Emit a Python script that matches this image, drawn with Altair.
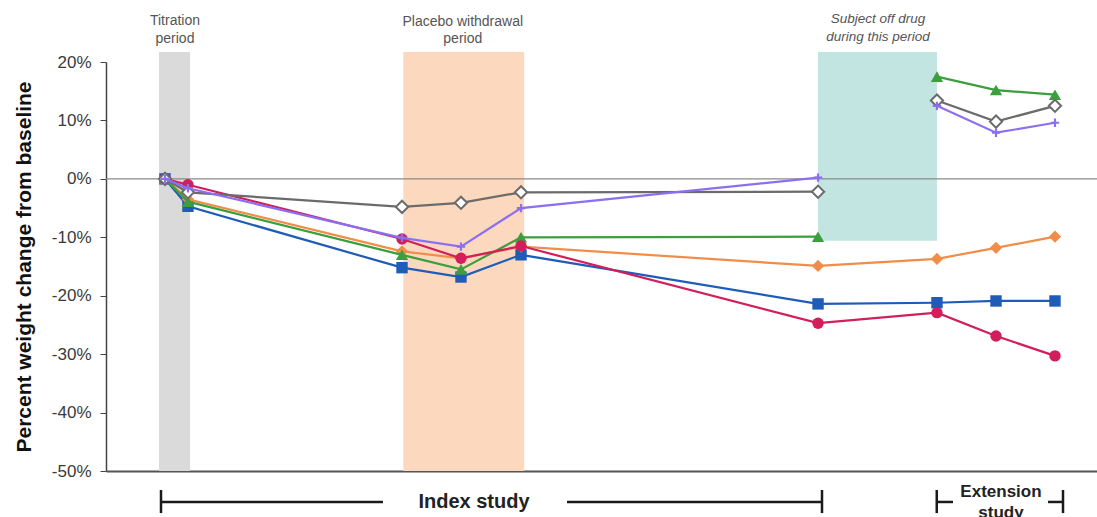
import altair as alt
import pandas as pd

# Visit positions (arbitrary time units along the study)
x_pos = [5.95, 8.27, 29.87, 35.82, 41.88, 71.85, 83.85, 89.81, 95.76]

# Percent weight change from baseline for each subject
blue = [0, -4.7, -15.2, -16.8, -13.0, -21.4, -21.2, -20.9, -20.9]
orange = [0, -3.5, -12.4, -13.6, -11.6, -14.9, -13.7, -11.8, -9.9]
green = [0, -3.9, -13.0, -15.5, -10.0, -9.9, 17.5, 15.2, 14.4]
red = [0, -1.0, -10.3, -13.6, -11.5, -24.7, -22.9, -26.9, -30.3]
gray = [0, -2.3, -4.8, -4.1, -2.3, -2.2, 13.4, 9.8, 12.5]
purple = [0, -1.6, -10.1, -11.6, -5.0, 0.2, 12.5, 7.9, 9.6]

series = [
    # name, values, color, shape, fill, broken across off-drug period
    ("Subject A", blue, "#1f5cb8", "square", "#1f5cb8", False),
    ("Subject B", orange, "#f08d49", "diamond", "#f08d49", False),
    ("Subject C", green, "#3c9e3c", "triangle-up", "#3c9e3c", True),
    ("Subject D", red, "#d21f5c", "circle", "#d21f5c", False),
    ("Subject E", gray, "#6b6b6b", "diamond", "#ffffff", True),
    ("Subject F", purple, "#8c6ff0", "M-1,0L1,0M0,-1L0,1", None, True),
]

# Shaded periods
period_names = ["Titration period", "Placebo withdrawal period", "Subject off drug"]
period_x0 = [5.35, 30.0, 71.85]
period_x1 = [8.48, 42.2, 83.85]
period_top = [21.7, 21.7, 21.7]
period_bottom = [-50, -50, -10.6]
period_colors = ["#dadada", "#fcd8bf", "#c2e5e1"]

# Annotation texts above the plot (y = first line)
note_text = ["Titration\nperiod", "Placebo withdrawal\nperiod", "Subject off drug\nduring this period"]
note_x = [6.96, 36.0, 77.9]
note_y = [27.0, 26.85, 27.3]
note_italic = [False, False, True]

Y_TICKS = [-50, -40, -30, -20, -10, 0, 10, 20]

xs = alt.Scale(domain=[0, 100], nice=False, zero=False)
ys = alt.Scale(domain=[-50, 20], nice=False, zero=False)

layers = []

# shaded rectangles
pdf = pd.DataFrame({"name": period_names, "x0": period_x0, "x1": period_x1,
                    "top": period_top, "bottom": period_bottom, "c": period_colors})
layers.append(
    alt.Chart(pdf).mark_rect(clip=False).encode(
        x=alt.X("x0:Q", scale=xs, axis=alt.Axis(labels=False, ticks=False, grid=False,
                                                domainColor="#555", domainWidth=2, title=None)),
        x2="x1:Q",
        y=alt.Y("top:Q", scale=ys, axis=alt.Axis(
            values=Y_TICKS, labelExpr="datum.value + '%'", grid=False,
            title="Percent weight change from baseline", titleFontSize=21, titleFontWeight="bold",
            titleColor="#111", titleFont="Liberation Sans", titlePadding=17,
            labelFontSize=17, labelColor="#3a3a3a", labelFont="Liberation Sans", labelPadding=9,
            tickSize=6, tickColor="#444", domainColor="#444", domainWidth=1.5)),
        y2="bottom:Q",
        color=alt.Color("c:N", scale=None),
    )
)

# zero line
layers.append(
    alt.Chart(pd.DataFrame({"v": [0]})).mark_rule(color="#8a8a8a", strokeWidth=1.3).encode(
        y=alt.Y("v:Q", scale=ys)
    )
)

# series lines and markers
for name, vals, col, shape, fill, broken in series:
    segs = [0 if (not broken or i < 6) else 1 for i in range(len(vals))]
    df = pd.DataFrame({"x": x_pos, "y": vals, "seg": segs})
    base = alt.Chart(df)
    layers.append(
        base.mark_line(color=col, strokeWidth=2.2).encode(
            x=alt.X("x:Q", scale=xs), y=alt.Y("y:Q", scale=ys), detail="seg:N")
    )
    if fill is None:
        pm = base.mark_point(shape=shape, stroke=col, strokeWidth=2.2, filled=False, size=70, opacity=1)
    elif fill == "#ffffff":
        pm = base.mark_point(shape=shape, stroke=col, fill=fill, strokeWidth=2, filled=True, size=150, opacity=1)
    else:
        sz = 130 if shape in ("square", "circle") else 150
        pm = base.mark_point(shape=shape, color=col, filled=True, size=sz, opacity=1)
    layers.append(pm.encode(x=alt.X("x:Q", scale=xs), y=alt.Y("y:Q", scale=ys)))

# annotations above
ndf = pd.DataFrame({"t": note_text, "x": note_x, "y": note_y, "it": note_italic})
for it, fs in ((False, 14), (True, 13.5)):
    layers.append(
        alt.Chart(ndf[ndf["it"] == it]).mark_text(
            lineBreak="\n", lineHeight=17.5, fontSize=fs, color="#555",
            font="Liberation Sans", fontStyle="italic" if it else "normal",
            align="center", baseline="middle").encode(
            x=alt.X("x:Q", scale=xs), y=alt.Y("y:Q", scale=ys), text="t:N")
    )

# study brackets below the axis
br_x0 = [5.55, 46.52, 5.55, 72.25, 83.83, 95.06, 83.83, 96.57]
br_x1 = [27.95, 72.25, 5.55, 72.25, 85.47, 96.57, 83.83, 96.57]
br_y0 = [-55.3, -55.3, -53.25, -53.25, -55.3, -55.3, -53.25, -53.25]
br_y1 = [-55.3, -55.3, -57.2, -57.2, -55.3, -55.3, -57.2, -57.2]
bdf = pd.DataFrame({"x0": br_x0, "x1": br_x1, "y0": br_y0, "y1": br_y1})
layers.append(
    alt.Chart(bdf).mark_rule(color="#1a1a1a", strokeWidth=2.5).encode(
        x=alt.X("x0:Q", scale=xs), x2="x1:Q", y=alt.Y("y0:Q", scale=ys), y2="y1:Q")
)

study_text = ["Index study", "Extension\nstudy"]
study_x = [37.13, 90.31]
study_y = [-55.3, -53.6]
study_size = [20, 17]
sdf = pd.DataFrame({"t": study_text, "x": study_x, "y": study_y})
for i in range(2):
    layers.append(
        alt.Chart(sdf.iloc[[i]]).mark_text(
            lineBreak="\n", lineHeight=21, fontSize=study_size[i], fontWeight="bold",
            font="Liberation Sans", color="#222", align="center", baseline="middle").encode(
            x=alt.X("x:Q", scale=xs), y=alt.Y("y:Q", scale=ys), text="t:N")
    )

chart = alt.layer(*layers).properties(
    width=991, height=409,
    autosize=alt.AutoSizeParams(type="none"),
    padding={"left": 106, "top": 62, "right": 0, "bottom": 46},
    background="white",
).configure_view(stroke=None)

chart.save("out.html", embed_options={"renderer": "svg", "actions": False})
